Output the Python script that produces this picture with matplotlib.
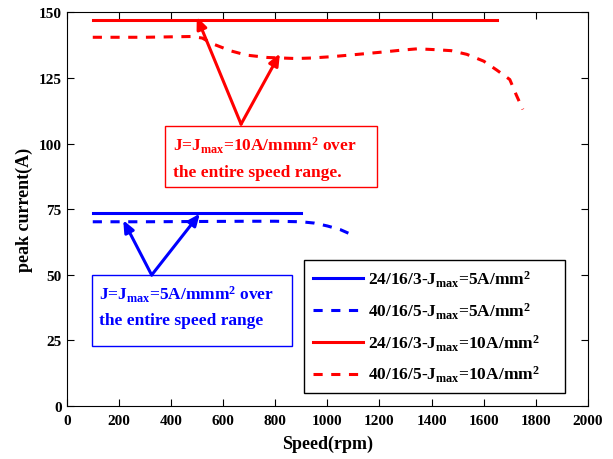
import matplotlib
matplotlib.use('Agg')
import matplotlib.pyplot as plt
from matplotlib.patches import Rectangle

plt.rcParams['font.family'] = ['Liberation Serif', 'DejaVu Serif']
plt.rcParams['font.weight'] = 'bold'
plt.rcParams['mathtext.fontset'] = 'custom'
plt.rcParams['mathtext.rm'] = 'Liberation Serif:bold'
plt.rcParams['mathtext.it'] = 'Liberation Serif:bold'
plt.rcParams['mathtext.bf'] = 'Liberation Serif:bold'

# data
speed_a5 = [100, 900]
cur_a5 = [73.5, 73.5]

speed_b5 = [100, 300, 500, 700, 800, 900, 950, 1000, 1050, 1100]
cur_b5 = [70.2, 70.2, 70.3, 70.4, 70.4, 70.2, 69.7, 68.6, 67.2, 65.0]

speed_a10 = [100, 1650]
cur_a10 = [147.2, 147.2]

speed_b10 = [100, 300, 480, 520, 560, 630, 690, 770, 880, 940, 1015, 1085, 1150,
             1215, 1285, 1345, 1410, 1475, 1535, 1600, 1650, 1700, 1725, 1750]
cur_b10 = [140.5, 140.5, 140.8, 140.2, 138.0, 135.3, 133.7, 132.8, 132.4, 132.6,
           133.1, 133.7, 134.3, 134.9, 135.6, 136.1, 135.8, 135.4, 134.0, 131.4,
           128.0, 124.4, 118.5, 113.0]

labels = [r'24/16/3-J$_{\rm max}$=5A/mm$^2$',
          r'40/16/5-J$_{\rm max}$=5A/mm$^2$',
          r'24/16/3-J$_{\rm max}$=10A/mm$^2$',
          r'40/16/5-J$_{\rm max}$=10A/mm$^2$']

fig = plt.figure(figsize=(6.13, 4.6), dpi=100)
ax = fig.add_axes([0.1088, 0.1152, 0.8504, 0.8558])

lw = 2.2
ax.plot(speed_a5, cur_a5, color='blue', lw=lw, label=labels[0])
ax.plot(speed_b5, cur_b5, color='blue', lw=lw, dashes=(3, 2.8), label=labels[1])
ax.plot(speed_a10, cur_a10, color='red', lw=lw, label=labels[2])
ax.plot(speed_b10, cur_b10, color='red', lw=lw, dashes=(3, 2.8), label=labels[3])

ax.set_xlim(0, 2000)
ax.set_ylim(0, 150)
ax.set_xticks(range(0, 2001, 200))
ax.set_yticks(range(0, 151, 25))
ax.tick_params(direction='in', top=True, right=True, labelsize=11, length=5, width=0.8)
ax.tick_params(axis='x', pad=6)
for s in ax.spines.values():
    s.set_linewidth(0.8)
ax.set_xlabel('Speed(rpm)', fontsize=13, fontweight='bold', labelpad=5)
ax.set_ylabel('peak current(A)', fontsize=13, fontweight='bold', labelpad=4)

# red annotation
arr = dict(arrowstyle='-|>,head_length=0.7,head_width=0.3', lw=2.2, shrinkA=0, shrinkB=0)
ax.annotate('', xy=(499, 148.3), xytext=(669, 107.4),
            arrowprops=dict(color='red', **arr))
ax.annotate('', xy=(818, 134.3), xytext=(669, 107.4),
            arrowprops=dict(color='red', **arr))
ax.add_patch(Rectangle((378, 83.4), 812, 23.3, fill=False, ec='red', lw=1.0))
ax.text(406, 97.3, r'J=J$_{\rm max}$=10A/mmm$^2$ over', color='red', fontsize=12.5)
ax.text(406, 87.8, 'the entire speed range.', color='red', fontsize=12.5)

# blue annotation
ax.annotate('', xy=(217, 70.8), xytext=(326, 49.9),
            arrowprops=dict(color='blue', **arr))
ax.annotate('', xy=(511, 73.3), xytext=(326, 49.9),
            arrowprops=dict(color='blue', **arr))
ax.add_patch(Rectangle((98, 22.9), 767, 27.1, fill=False, ec='blue', lw=1.0))
ax.text(125, 40.7, r'J=J$_{\rm max}$=5A/mmm$^2$ over', color='blue', fontsize=12.5)
ax.text(125, 31.2, 'the entire speed range', color='blue', fontsize=12.5)

leg = ax.legend(loc='lower left', bbox_to_anchor=(0.455, 0.033, 0.501, 0.3),
                mode='expand', fontsize=12.5,
                frameon=True, fancybox=False, edgecolor='black', framealpha=1,
                handlelength=2.9, labelspacing=0.66, borderpad=0.5,
                borderaxespad=0, handletextpad=0.3)
leg.get_frame().set_linewidth(1.0)

fig.savefig('out.png', dpi=100)
